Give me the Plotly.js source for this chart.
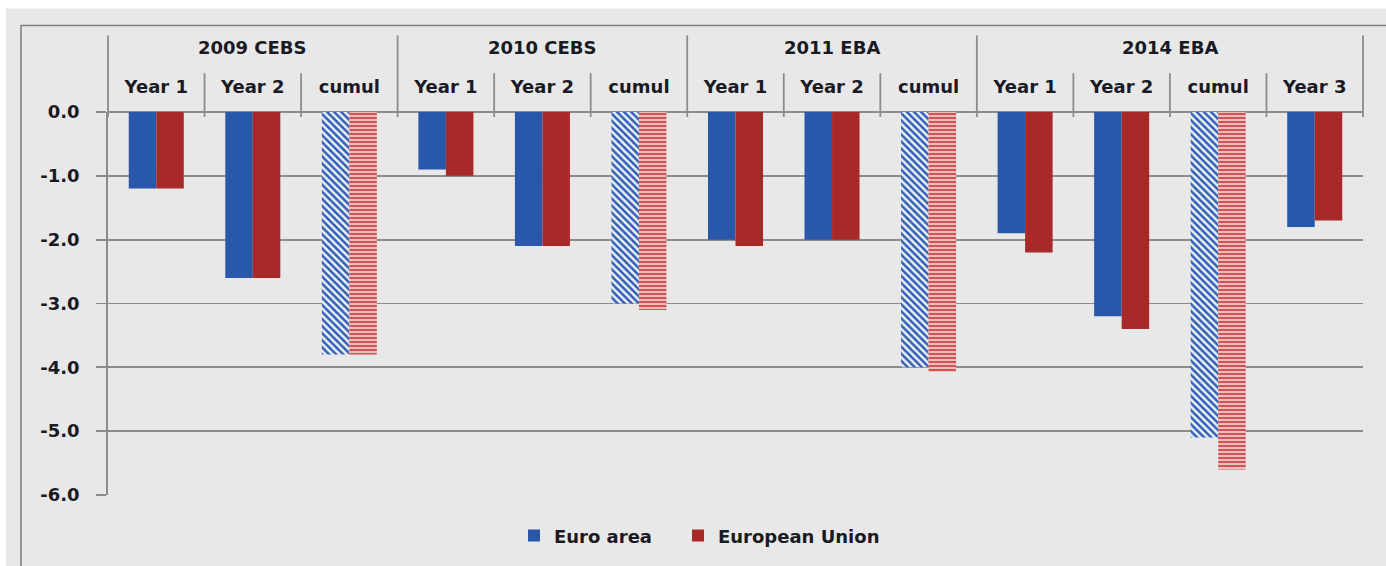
<!DOCTYPE html>
<html>
<head>
<meta charset="utf-8">
<script src="https://cdn.plot.ly/plotly-3.0.1.min.js"></script>
<style>
html,body{margin:0;padding:0;background:#fff;}
#chart{width:1386px;height:566px;}
</style>
</head>
<body>
<div id="chart"></div>
<script>
// ---- data ----
const groups = ['2009 CEBS', '2010 CEBS', '2011 EBA', '2014 EBA'];
const groupSizes = [3, 3, 3, 4];
const subLabels = ['Year 1', 'Year 2', 'cumul', 'Year 1', 'Year 2', 'cumul', 'Year 1', 'Year 2', 'cumul', 'Year 1', 'Year 2', 'cumul', 'Year 3'];
const euroArea = [-1.2, -2.6, -3.8, -0.9, -2.1, -3.0, -2.0, -2.0, -4.0, -1.9, -3.2, -5.1, -1.8];
const europeanUnion = [-1.2, -2.6, -3.8, -1.0, -2.1, -3.1, -2.1, -2.0, -4.07, -2.2, -3.4, -5.6, -1.7];
const seriesNames = ['Euro area', 'European Union'];
const yTickVals = [0, -1, -2, -3, -4, -5, -6];
const yTickText = ['0.0', '-1.0', '-2.0', '-3.0', '-4.0', '-5.0', '-6.0'];

// ---- layout helpers ----
const W = 1386, H = 566;
const M = {l: 108, r: 23, t: 112, b: 69};
const PW = W - M.l - M.r, PH = H - M.t - M.b;
const px2x = p => (p - M.l) / PW;
const py2y = p => (H - M.b - p) / PH;

const idx = subLabels.map((_, i) => i);
const n = subLabels.length;
const isCumul = subLabels.map(s => s === 'cumul');

const FONT = 'DejaVu Sans, Verdana, sans-serif';
const TXT = '#1a1a24';
const GRID = '#8c8c8c';
const BLUE = '#2957a9';
const RED = '#a92828';
const tf = {family: FONT, size: 18, color: TXT, weight: 'bold'};

const traceEA = {
  type: 'bar', name: seriesNames[0], x: idx, y: euroArea, legend: 'legend',
  marker: {
    color: BLUE, line: {width: 0},
    pattern: {shape: isCumul.map(c => c ? '\\' : ''), fgcolor: '#2f5fb4', bgcolor: '#eef0f6', size: 5, solidity: 0.5}
  },
  hoverinfo: 'y'
};
const traceEU = {
  type: 'bar', name: seriesNames[1], x: idx, y: europeanUnion, legend: 'legend2',
  marker: {
    color: RED, line: {width: 0},
    pattern: {shape: isCumul.map(c => c ? '-' : ''), fgcolor: '#c83a3a', bgcolor: '#eebcbc', size: 4, solidity: 0.4}
  },
  hoverinfo: 'y'
};

// separators & frame
const shapes = [];
shapes.push({type: 'rect', xref: 'paper', yref: 'paper', layer: 'below',
  x0: px2x(6), x1: px2x(W + 20), y0: py2y(8), y1: py2y(H + 20),
  fillcolor: '#e8e8e8', line: {width: 0}});
shapes.push({type: 'path', xref: 'paper', yref: 'paper', layer: 'below',
  path: `M ${px2x(W + 20)} ${py2y(25)} L ${px2x(21)} ${py2y(25)} L ${px2x(21)} ${py2y(H + 20)}`,
  line: {color: '#7c7c7c', width: 1.5}});
const groupStarts = [];
let acc = 0;
groupSizes.forEach(s => { groupStarts.push(acc); acc += s; });
for (let k = 0; k <= n; k++) {
  const isGroup = groupStarts.includes(k) || k === n;
  shapes.push({type: 'line', xref: 'paper', yref: 'paper',
    x0: k / n, x1: k / n, y0: py2y(117), y1: py2y(isGroup ? 35 : 73),
    line: {color: GRID, width: 1.8}});
}

const annotations = groups.map((g, i) => ({
  text: g, xref: 'paper', yref: 'paper',
  x: (groupStarts[i] + groupSizes[i] / 2) / n, y: py2y(47),
  xanchor: 'center', yanchor: 'middle', showarrow: false,
  font: tf
}));

const legendBase = {orientation: 'h', xanchor: 'left', y: py2y(538), yanchor: 'middle',
  font: tf, bgcolor: 'rgba(0,0,0,0)', itemwidth: 30};

const layout = {
  width: W, height: H,
  margin: M,
  paper_bgcolor: '#ffffff',
  plot_bgcolor: '#e8e8e8',
  barmode: 'group',
  bargap: 0.43,
  bargroupgap: 0,
  showlegend: true,
  legend: Object.assign({}, legendBase, {x: px2x(514)}),
  legend2: Object.assign({}, legendBase, {x: px2x(678)}),
  xaxis: {
    type: 'linear', range: [-0.5, n - 0.5], side: 'top',
    tickmode: 'array', tickvals: idx, ticktext: subLabels,
    ticks: '', showgrid: false, zeroline: false, showline: false,
    tickfont: tf,
    ticklabelstandoff: 14, fixedrange: true
  },
  yaxis: {
    range: [-6, 0], tickmode: 'array', tickvals: yTickVals, ticktext: yTickText,
    ticks: 'outside', ticklen: 10, tickcolor: GRID, tickwidth: 1.8,
    showgrid: true, gridcolor: GRID, gridwidth: 1.8,
    zeroline: true, zerolinecolor: GRID, zerolinewidth: 1.8,
    showline: true, linecolor: GRID, linewidth: 1.8,
    tickfont: tf,
    ticklabelstandoff: 13, fixedrange: true
  },
  shapes: shapes,
  annotations: annotations,
  font: tf
};

Plotly.newPlot('chart', [traceEA, traceEU], layout, {displayModeBar: false, staticPlot: true});
</script>
</body>
</html>
